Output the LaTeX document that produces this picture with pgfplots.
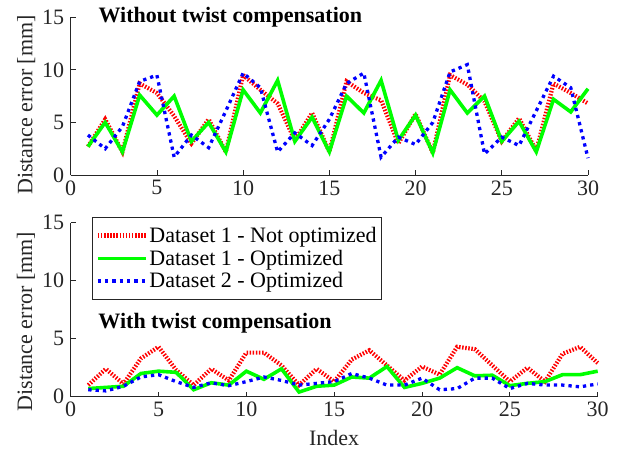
\documentclass[border=0pt]{standalone}
\usepackage{fontspec}
\setmainfont{Liberation Serif}
\usepackage{pgfplots}
\pgfplotsset{compat=1.18}
\usepackage{pgfplotstable}

\pgfplotstableread{
i red green blue
1 2.7 2.7 3.8
2 5.3 5.0 2.5
3 2.2 2.2 4.6
4 8.7 7.6 8.9
5 7.8 5.7 9.5
6 5.6 7.5 1.7
7 3.0 3.2 3.8
8 5.3 5.0 2.6
9 2.2 2.2 6.1
10 9.5 8.1 9.7
11 8.1 5.9 8.3
12 6.8 9.0 2.2
13 3.3 3.2 4.0
14 5.9 5.5 2.8
15 2.2 2.2 5.3
16 8.9 7.5 8.7
17 7.8 5.9 9.7
18 7.1 9.0 1.7
19 3.0 3.3 3.6
20 5.8 5.7 2.9
21 2.1 2.1 5.0
22 9.5 8.1 9.8
23 8.6 5.9 10.5
24 7.0 7.5 2.0
25 3.2 3.2 3.6
26 5.4 5.1 2.8
27 2.3 2.2 6.1
28 8.7 7.2 9.4
29 7.8 6.0 8.3
30 6.8 8.2 1.6
}\topdata

\pgfplotstableread{
i red green blue
1 1.0 0.7 0.6
2 2.4 0.8 0.5
3 1.1 0.9 0.9
4 3.3 2.0 1.7
5 4.3 2.2 1.9
6 2.3 2.1 1.3
7 1.0 0.6 0.8
8 2.4 1.2 1.2
9 1.4 1.0 0.95
10 3.8 2.2 1.3
11 3.8 1.5 1.7
12 2.7 2.4 1.4
13 1.0 0.4 1.0
14 2.4 0.9 1.15
15 1.3 1.0 1.3
16 3.2 1.7 2.0
17 4.0 1.6 1.6
18 2.7 2.6 1.0
19 1.4 0.8 1.0
20 2.6 1.15 1.6
21 1.9 1.6 0.6
22 4.3 2.5 0.7
23 4.1 1.8 1.6
24 2.7 1.85 1.6
25 1.3 0.95 0.7
26 2.5 1.15 1.15
27 1.3 1.3 1.0
28 3.7 1.9 1.0
29 4.3 1.9 0.85
30 2.9 2.2 1.1
}\botdata

\definecolor{axgray}{RGB}{38,38,38}
\newcommand{\myfont}{\fontsize{22}{25}\selectfont}
\tikzset{
  redline/.style={draw={rgb,1:red,1;green,0;blue,0}, line width=4.2pt, dash pattern=on 1.5pt off 1.6pt},
  greenline/.style={draw={rgb,1:red,0;green,1;blue,0}, line width=3.6pt},
  blueline/.style={draw={rgb,1:red,0;green,0;blue,1}, line width=3.3pt, dash pattern=on 3.3pt off 4pt},
}
\pgfplotsset{
  myaxis/.style={
    scale only axis,
    xmin=0, xmax=30, ymin=0, ymax=15,
    xtick={0,5,...,30}, ytick={0,5,10,15},
    axis x line=bottom, axis y line=left,
    axis line style={-, draw=axgray, line width=0.8pt},
    tick style={draw=axgray, line width=0.8pt},
    tick align=inside,
    major tick length=5pt,
    font=\myfont,
    ticklabel style={font=\myfont, text=axgray},
    /pgf/number format/assume math mode=true,
    yticklabel style={xshift=-3pt},
    xticklabel style={yshift=-2pt},
    clip=false,
    legend cell align=left,
  },
}

\begin{document}
\begin{tikzpicture}
\useasboundingbox (0pt,0pt) rectangle (621pt,454pt);

\begin{axis}[myaxis,
  at={(70.7pt,279pt)}, anchor=south west,
  width=517.3pt, height=157.7pt,
  ylabel={Distance error [mm]},
  every axis y label/.style={at={(axis description cs:-0.086,0.444)}, rotate=90, anchor=center, font=\myfont, text=axgray},
]
\addplot[redline] table[x=i, y=red] {\topdata};
\addplot[greenline] table[x=i, y=green] {\topdata};
\addplot[blueline] table[x=i, y=blue] {\topdata};
\node[anchor=base west, font=\myfont\bfseries] at (axis description cs:0.047,0.966) {Without twist compensation};
\end{axis}

\begin{axis}[myaxis,
  at={(70.7pt,57.3pt)}, anchor=south west,
  width=527pt, height=174pt,
  ylabel={Distance error [mm]},
  every axis y label/.style={at={(axis description cs:-0.085,0.431)}, rotate=90, anchor=center, font=\myfont, text=axgray},
  xlabel={Index},
  every axis x label/.style={at={(axis description cs:0.5,-0.283)}, anchor=base, font=\myfont, text=axgray},
  legend image code/.code={\draw[#1] (0pt,0pt) -- (48pt,0pt);},
  legend style={at={(axis description cs:0.041,1.031)}, anchor=north west,
    draw=axgray, line width=0.8pt, fill=white,
    inner xsep=3pt, inner ysep=8pt,
    font=\myfont,
    nodes={inner sep=1.5pt, text=black},
    row sep=3pt},
]
\addplot[redline] table[x=i, y=red] {\botdata};
\addlegendentry{Dataset 1 - Not optimized\hspace{14pt}}
\addplot[greenline] table[x=i, y=green] {\botdata};
\addlegendentry{Dataset 1 - Optimized}
\addplot[blueline] table[x=i, y=blue] {\botdata};
\addlegendentry{Dataset 2 - Optimized}
\node[anchor=base west, font=\myfont\bfseries] at (axis description cs:0.046,0.393) {With twist compensation};
\end{axis}
\end{tikzpicture}
\end{document}
